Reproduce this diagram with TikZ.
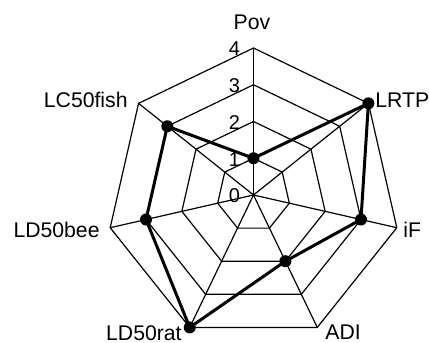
\documentclass[tikz,border=0pt]{standalone}
\usepackage{fontspec}
\setmainfont{Liberation Sans}
\usetikzlibrary{positioning}

\tikzset{
    grid/.style={line width=0.6pt},
    dataline/.style={line width=1.5pt,line join=round},
    dot/.style={fill,circle,inner sep=0pt,minimum size=6pt},
    axislabel/.style={font=\fontsize{10.6}{13}\selectfont,inner sep=0pt},
    tick/.style={font=\fontsize{10}{12}\selectfont,inner sep=0pt,anchor=east}
}

\begin{document}
\begin{tikzpicture}[x=0.5pt,y=0.5pt]
    \useasboundingbox (-253.5,-148) rectangle (175.5,195);
    % rings and spokes
    \foreach \r in {1,2,3,4}
        \draw[grid] (90:\r*36.75) \foreach \k in {1,...,6}{ -- (90-\k*360/7:\r*36.75)} -- cycle;
    \coordinate (o) at (0,0);
    \foreach \k in {0,...,6}{
        \coordinate (v\k) at (90-\k*360/7:4*36.75);
        \draw[grid] (o) -- (v\k);
    }
    % scale
    \foreach \t in {0,...,4}
        \node[tick](t\t) at (-13,\t*36.75-1){\t};
    % axis names
    \node[axislabel](pov) at (-1.5,173){Pov};
    \node[axislabel,anchor=west](lrtp) at (121.5,95){LRTP};
    \node[axislabel,anchor=west](if) at (149.5,-35){iF};
    \node[axislabel,anchor=west](adi) at (71.5,-137){ADI};
    \node[axislabel,anchor=east](ld50rat) at (-71.5,-138){LD50rat};
    \node[axislabel,anchor=east](ld50bee) at (-153.5,-35){LD50bee};
    \node[axislabel,anchor=east](lc50fish) at (-125.5,95){LC50fish};
    % values
    \foreach \v [count=\k from 0] in {1,4,3,2,4,3,3}
        \coordinate (d\k) at (90-\k*360/7:\v*36.75);
    \draw[dataline] (d0) -- (d1) -- (d2) -- (d3) -- (d4) -- (d5) -- (d6) -- cycle;
    \foreach \k in {0,...,6}
        \node[dot](p\k) at (d\k){};
\end{tikzpicture}
\end{document}
